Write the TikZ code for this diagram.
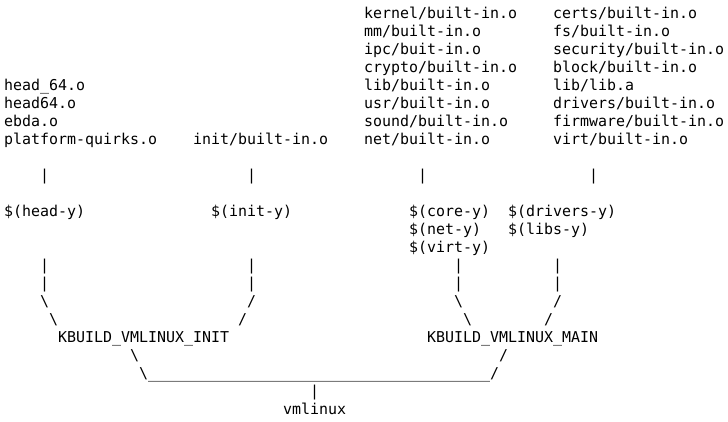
\documentclass[tikz,border=0pt]{standalone}
\usepackage{fontspec}
\usepackage{tikz}
\newfontfamily\kbmono{DejaVu Sans Mono}
\newcommand{\kbfont}{\kbmono\fontsize{14.95}{18}\selectfont}
\newcommand{\bs}{\textbackslash}
\newcommand{\fs}{/}

\begin{document}
\begin{tikzpicture}[x=9pt,y=-18pt,every node/.style={anchor=base west,inner sep=0pt,font=\kbfont}]
\useasboundingbox (-4pt,0.5pt) rectangle (724pt,-421.5pt);
% object files
\foreach \r/\t in {5/{head\_64.o}, 6/{head64.o}, 7/{ebda.o}, 8/{platform-quirks.o}} \node (head\r) at (0,\r) {\t};
\node (init8) at (21,8) {init/built-in.o};
\foreach \r/\t in {1/{kernel/built-in.o}, 2/{mm/built-in.o}, 3/{ipc/buit-in.o}, 4/{crypto/built-in.o}, 5/{lib/built-in.o}, 6/{usr/built-in.o}, 7/{sound/built-in.o}, 8/{net/built-in.o}} \node (core\r) at (40,\r) {\t};
\foreach \r/\t in {1/{certs/built-in.o}, 2/{fs/built-in.o}, 3/{security/built-in.o}, 4/{block/built-in.o}, 5/{lib/lib.a}, 6/{drivers/built-in.o}, 7/{firmware/built-in.o}, 8/{virt/built-in.o}} \node (drv\r) at (61,\r) {\t};
\foreach \c/\n in {4/a, 27/b, 46/c, 65/d} \node (top\n) at (\c,10) {|};	% bars under the lists
% make variables
\node (heady) at (0,12) {\$(head-y)};
\node (inity) at (23,12) {\$(init-y)};
\foreach \r/\t in {12/core, 13/net, 14/virt} \node (\t y) at (45,\r) {\$(\t-y)};
\foreach \r/\t in {12/drivers, 13/libs} \node (\t y) at (56,\r) {\$(\t-y)};
\foreach \c/\n in {4/a, 27/b, 50/c, 61/d} {
  \node (up\n) at (\c,15) {|};
  \node (mid\n) at (\c,16) {|};
}
\foreach \c/\n/\g in {4/a/\bs, 27/b/\fs, 50/c/\bs, 61/d/\fs} \node (sla\n) at (\c,17) {\g};
\foreach \c/\n/\g in {5/a/\bs, 26/b/\fs, 51/c/\bs, 60/d/\fs} \node (slb\n) at (\c,18) {\g};
% link groups
\node (vminit) at (6,19) {KBUILD\_VMLINUX\_INIT};
\node (vmmain) at (47,19) {KBUILD\_VMLINUX\_MAIN};
\node (dla) at (14,20) {\bs};
\node (dlb) at (55,20) {/};
\node (join) at (15,21) {\bs\foreach \i in {1,...,38}{\_}/};
\node (bot) at (34,22) {|};
\node (vmlinux) at (31,23) {vmlinux};
\end{tikzpicture}
\end{document}
